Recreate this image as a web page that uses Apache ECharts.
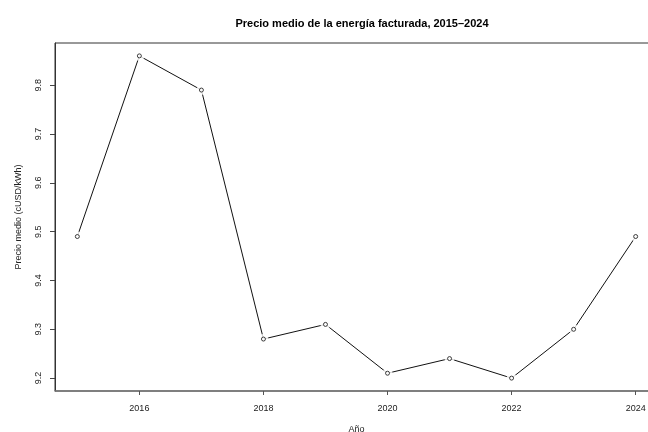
<!DOCTYPE html>
<html>
<head>
<meta charset="utf-8">
<script src="https://cdn.jsdelivr.net/npm/echarts@6/dist/echarts.min.js"></script>
<style>
html,body{margin:0;padding:0;background:#fff;overflow:hidden;}
#c{width:648px;height:432px;}
</style>
</head>
<body>
<div id="c"></div>
<script>
var years = [2015, 2016, 2017, 2018, 2019, 2020, 2021, 2022, 2023, 2024];
var precio = [9.49, 9.86, 9.79, 9.28, 9.31, 9.21, 9.24, 9.20, 9.30, 9.49];
var xTicks = [2016, 2018, 2020, 2022, 2024];
var yTicks = [9.2, 9.3, 9.4, 9.5, 9.6, 9.7, 9.8];

var pts = years.map(function (y, i) { return [y, precio[i]]; });
var ymin = Math.min.apply(null, precio), ymax = Math.max.apply(null, precio);
var yp = (ymax - ymin) * 0.04;
var xp = (years[years.length - 1] - years[0]) * 0.04;

var font = 'Liberation Sans, Arial, Helvetica, sans-serif';
var chart = echarts.init(document.getElementById('c'), null, {renderer: 'canvas'});
chart.setOption({
  animation: false,
  backgroundColor: '#ffffff',
  title: {
    text: 'Precio medio de la energía facturada, 2015–2024',
    left: 357, top: 13, textAlign: 'center',
    textStyle: {fontFamily: font, fontSize: 11, fontWeight: 'bold', color: '#000'}
  },
  grid: {
    left: 55, top: 43, width: 603, height: 348,
    show: true, borderColor: '#333', borderWidth: 1,
    containLabel: false, outerBoundsMode: 'none'
  },
  xAxis: {
    type: 'value',
    min: years[0] - xp, max: years[years.length - 1] + xp,
    name: 'Año', nameLocation: 'middle', nameGap: 34,
    nameTextStyle: {fontFamily: font, fontSize: 9, color: '#222'},
    axisLine: {show: true, lineStyle: {color: '#777', width: 1.5}},
    axisTick: {show: true, customValues: xTicks, length: 4, lineStyle: {color: '#555'}},
    axisLabel: {customValues: xTicks, fontFamily: font, fontSize: 9, color: '#222', margin: 13,
      formatter: function (v) { return String(Math.round(v)); }},
    splitLine: {show: false}
  },
  yAxis: {
    type: 'value',
    min: ymin - yp, max: ymax + yp,
    name: 'Precio medio (cUSD/kWh)', nameLocation: 'middle', nameGap: 32, nameRotate: 90,
    nameTextStyle: {fontFamily: font, fontSize: 9, color: '#222'},
    axisLine: {show: true, lineStyle: {color: '#333', width: 1}},
    axisTick: {show: true, customValues: yTicks, length: 5, lineStyle: {color: '#444'}},
    axisLabel: {customValues: yTicks, rotate: 90, fontFamily: font, fontSize: 9, color: '#222', margin: 12,
      formatter: function (v) { return v.toFixed(1); }},
    splitLine: {show: false}
  },
  series: [
    {type: 'line', data: pts, showSymbol: false, symbol: 'none',
      lineStyle: {color: '#111', width: 1}, z: 2},
    {type: 'scatter', data: pts, symbol: 'circle', symbolSize: 10,
      itemStyle: {color: '#fff', borderWidth: 0}, z: 3, silent: true},
    {type: 'scatter', data: pts, symbol: 'circle', symbolSize: 4,
      itemStyle: {color: '#fff', borderColor: '#111', borderWidth: 1}, z: 4, silent: true}
  ]
});
</script>
</body>
</html>
